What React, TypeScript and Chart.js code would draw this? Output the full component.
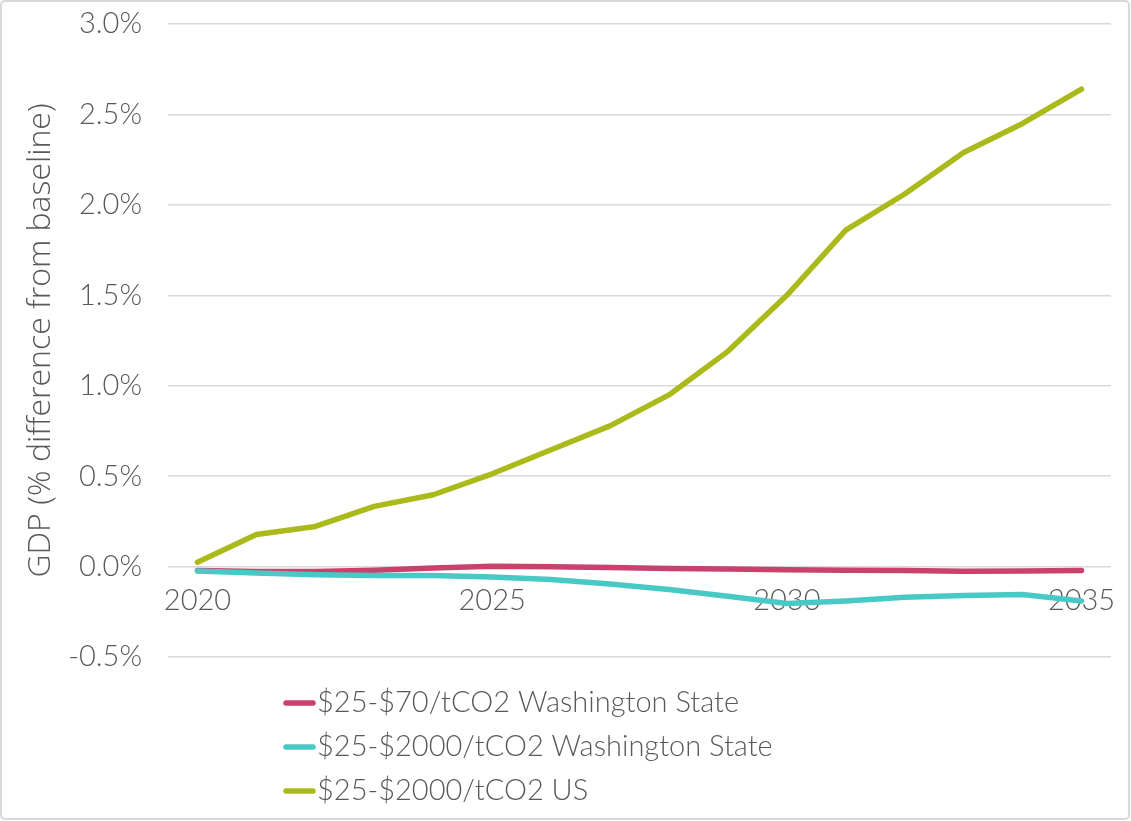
import React, { useEffect, useRef } from 'react';
import { Chart, registerables } from 'chart.js';

Chart.register(...registerables);

const years = ['2020', '2021', '2022', '2023', '2024', '2025', '2026', '2027', '2028', '2029', '2030', '2031', '2032', '2033', '2034', '2035'];
const waLow = [-0.022, -0.027, -0.027, -0.02, -0.008, 0.002, -0.001, -0.005, -0.01, -0.014, -0.018, -0.021, -0.022, -0.026, -0.024, -0.022];
const waHigh = [-0.025, -0.035, -0.045, -0.05, -0.05, -0.057, -0.072, -0.096, -0.127, -0.164, -0.204, -0.19, -0.17, -0.16, -0.155, -0.19];
const us = [0.024, 0.177, 0.222, 0.333, 0.397, 0.513, 0.646, 0.778, 0.949, 1.19, 1.5, 1.86, 2.06, 2.29, 2.45, 2.64];
const seriesLabels = ['$25-$70/tCO2 Washington State', '$25-$2000/tCO2 Washington State', '$25-$2000/tCO2 US'];
const seriesColors = ['#C8426C', '#48C9C5', '#ABBA1A'];
const yTitle = 'GDP (% difference from baseline)';

const FONT = 'Lato, "Open Sans", sans-serif';
const TITLE_FONT = '"Open Sans", Lato, sans-serif';
const TEXT = '#595959';

const borderPlugin = {
  id: 'frameBorder',
  beforeDraw(chart: any) {
    const ctx = chart.ctx;
    ctx.save();
    ctx.fillStyle = '#ffffff';
    ctx.fillRect(0, 0, chart.width, chart.height);
    ctx.strokeStyle = '#d9d9d9';
    ctx.lineWidth = 2;
    ctx.beginPath();
    (ctx as any).roundRect(1, 1, chart.width - 3, chart.height - 3, 4);
    ctx.stroke();
    ctx.restore();
  },
};

const legendPlugin = {
  id: 'vertLegend',
  afterDraw(chart: any) {
    const ctx = chart.ctx;
    const area = chart.chartArea;
    ctx.save();
    chart.data.datasets.forEach((ds: any, i: number) => {
      const y = area.bottom + 46 + 44 * i;
      const x0 = area.left + 118;
      ctx.strokeStyle = ds.borderColor;
      ctx.lineWidth = 5.5;
      ctx.lineCap = 'round';
      ctx.beginPath();
      ctx.moveTo(x0, y);
      ctx.lineTo(x0 + 27, y);
      ctx.stroke();
      ctx.fillStyle = TEXT;
      ctx.font = `300 29px ${FONT}`;
      ctx.textBaseline = 'middle';
      ctx.textAlign = 'left';
      ctx.fillText(ds.label, x0 + 31, y);
    });
    ctx.restore();
  },
};

export default function App() {
  const ref = useRef<HTMLCanvasElement | null>(null);
  useEffect(() => {
    if (!ref.current) return;
    const datasets = [waLow, waHigh, us].map((d, i) => ({
      label: seriesLabels[i],
      data: d,
      borderColor: seriesColors[i],
      backgroundColor: seriesColors[i],
      borderWidth: 5.5,
      pointRadius: 0,
      tension: 0,
      borderCapStyle: 'round' as const,
      borderJoinStyle: 'round' as const,
      order: 2 - i,
    }));
    const chart = new Chart(ref.current, {
      type: 'line',
      data: { labels: years, datasets },
      options: {
        animation: false,
        responsive: false,
        maintainAspectRatio: false,
        layout: { padding: { left: 0, right: 20, top: 24, bottom: 164 } },
        plugins: { legend: { display: false }, tooltip: { enabled: false } },
        scales: {
          x: {
            type: 'category',
            offset: true,
            position: { y: 0 } as any,
            grid: { display: false, drawTicks: false },
            border: { display: false },
            ticks: {
              autoSkip: false,
              maxRotation: 0,
              padding: 17,
              color: TEXT,
              font: { family: FONT, size: 29, weight: '300' as any },
              callback: (_v: any, idx: number) => (idx % 5 === 0 ? years[idx] : ''),
            },
            afterFit: (scale: any) => {
              scale.paddingLeft = 0;
              scale.paddingRight = 0;
              scale.paddingTop = 0;
              scale.paddingBottom = 0;
            },
          },
          y: {
            min: -0.5,
            max: 3.0,
            grid: { color: '#d9d9d9', lineWidth: 1.5, drawTicks: false },
            border: { display: false },
            ticks: {
              stepSize: 0.5,
              padding: 26,
              color: TEXT,
              font: { family: FONT, size: 29, weight: '300' as any },
              callback: (v: any) => `${Number(v).toFixed(1)}%`,
            },
            title: {
              display: true,
              text: yTitle,
              color: TEXT,
              font: { family: TITLE_FONT, size: 32, weight: '300' as any },
              padding: { top: 22, bottom: 0 },
            },
            afterFit: (scale: any) => {
              scale.width = 168;
              scale.paddingTop = 0;
              scale.paddingBottom = 0;
              scale.paddingLeft = 0;
              scale.paddingRight = 0;
            },
          },
        },
      },
      plugins: [borderPlugin, legendPlugin],
    });
    return () => chart.destroy();
  }, []);
  return (
    <div style={{ position: 'absolute', left: 0, top: 0, width: 1131, height: 821 }}>
      <canvas ref={ref} width={1131} height={821} style={{ display: 'block', width: 1131, height: 821 }} />
    </div>
  );
}
